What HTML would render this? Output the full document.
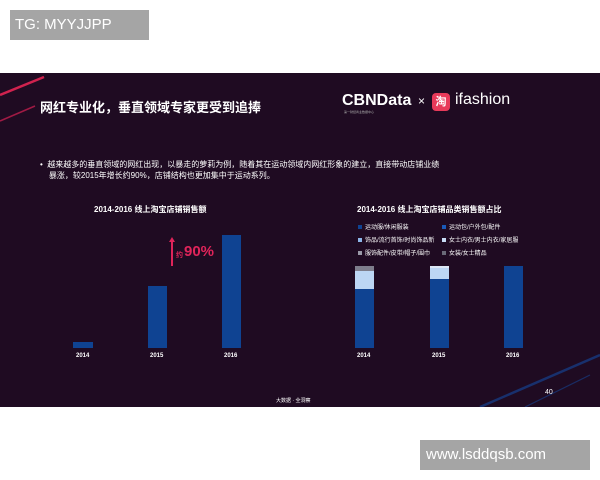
<!DOCTYPE html>
<html><head><meta charset="utf-8"><style>
body{margin:0;width:600px;height:480px;background:#fff;position:relative;overflow:hidden;font-family:"Liberation Sans","Noto Sans CJK SC",sans-serif}
.a{position:absolute;white-space:nowrap}
#dark{position:absolute;left:0;top:73px;width:600px;height:334px;background:#1f0b22;overflow:hidden}
.bar{position:absolute;background:#0f4392}
.lab{position:absolute;color:#fff;font-size:6px;font-weight:bold}
.lg{position:absolute;color:#fff;font-size:6px}
.lg i{display:inline-block;width:4px;height:4px;margin-right:3px;vertical-align:middle}
</style></head><body>
<div class="a" style="left:10px;top:10px;width:139px;height:30px;background:#a5a5a5;color:#fff;font-size:15px;line-height:30px;padding-left:5px;box-sizing:border-box">TG: MYYJJPP</div>
<div class="a" style="left:420px;top:440px;width:170px;height:30px;background:#a5a5a5;color:#fff;font-size:15px;line-height:30px;padding-left:6px;box-sizing:border-box">www.lsddqsb.com</div>
<div id="dark">
<svg width="600" height="334" style="position:absolute;left:0;top:0">
<line x1="0" y1="22" x2="44" y2="4" stroke="#d0224e" stroke-width="2.5"/>
<line x1="0" y1="48" x2="35" y2="33" stroke="#a01a44" stroke-width="1.5"/>
<line x1="480" y1="334" x2="600" y2="282" stroke="#173a80" stroke-width="2.5" opacity="0.8"/>
<line x1="525" y1="334" x2="590" y2="302" stroke="#173a80" stroke-width="1.2" opacity="0.7"/>
</svg>
<div class="a" style="left:40px;top:24px;color:#fff;font-size:13px;font-weight:bold">网红专业化，垂直领域专家更受到追捧</div>
<div class="a" style="left:342px;top:19px;color:#fff;font-size:16px;font-weight:bold">CBNData</div>
<div class="a" style="left:344px;top:37px;color:#aaa;font-size:3px">第一财经商业数据中心</div>
<div class="a" style="left:418px;top:21px;color:#fff;font-size:12px">×</div>
<div class="a" style="left:432px;top:20px;width:18px;height:18px;background:#e83a5a;border-radius:4px;color:#fff;font-size:11px;text-align:center;line-height:18px;font-weight:bold">淘</div>
<div class="a" style="left:455px;top:18px;color:#fff;font-size:16px">ifashion</div>
<div class="a" style="left:40px;top:86px;color:#fff;font-size:8px;line-height:11px">•&nbsp; 越来越多的垂直领域的网红出现，以暴走的萝莉为例，随着其在运动领域内网红形象的建立，直接带动店铺业绩<br>&nbsp;&nbsp;&nbsp; 暴涨，较2015年增长约90%，店铺结构也更加集中于运动系列。</div>
<div class="a" style="left:94px;top:131px;color:#fff;font-size:8px;font-weight:bold">2014-2016 线上淘宝店铺销售额</div>
<div class="bar" style="left:73px;top:269px;width:20px;height:6px"></div>
<div class="bar" style="left:148px;top:213px;width:19px;height:62px"></div>
<div class="bar" style="left:222px;top:162px;width:19px;height:113px"></div>
<div class="lab" style="left:76px;top:280px">2014</div>
<div class="lab" style="left:150px;top:280px">2015</div>
<div class="lab" style="left:224px;top:280px">2016</div>
<div class="a" style="left:171px;top:167px;width:1.5px;height:26px;background:#e0245a"></div>
<div class="a" style="left:168.5px;top:164px;width:0;height:0;border-left:3px solid transparent;border-right:3px solid transparent;border-bottom:5px solid #e0245a"></div>
<div class="a" style="left:176px;top:177px;color:#e0245a;font-size:7px;font-weight:bold">约</div>
<div class="a" style="left:184px;top:170px;color:#e0245a;font-size:15px;font-weight:bold">90%</div>
<div class="a" style="left:357px;top:131px;color:#fff;font-size:8px;font-weight:bold">2014-2016 线上淘宝店铺品类销售额占比</div>
<div class="lg" style="left:358px;top:149px"><i style="background:#0f4392"></i>运动服/休闲服装</div>
<div class="lg" style="left:442px;top:149px"><i style="background:#1a5ab8"></i>运动包/户外包/配件</div>
<div class="lg" style="left:358px;top:162px"><i style="background:#8db6e8"></i>饰品/流行首饰/时尚饰品新</div>
<div class="lg" style="left:442px;top:162px"><i style="background:#c8dcf4"></i>女士内衣/男士内衣/家居服</div>
<div class="lg" style="left:358px;top:175px"><i style="background:#9a9aa8"></i>服饰配件/皮带/帽子/围巾</div>
<div class="lg" style="left:442px;top:175px"><i style="background:#6a6a78"></i>女装/女士精品</div>
<div class="bar" style="left:355px;top:193px;width:19px;height:82px;background:linear-gradient(#7e7e8c 0 5px,#bcd6f4 5px 23px,#0f4392 23px)"></div>
<div class="bar" style="left:430px;top:193px;width:19px;height:82px;background:linear-gradient(#dde8f6 0 2px,#bcd6f4 2px 13px,#0f4392 13px)"></div>
<div class="bar" style="left:504px;top:193px;width:19px;height:82px"></div>
<div class="lab" style="left:357px;top:280px">2014</div>
<div class="lab" style="left:432px;top:280px">2015</div>
<div class="lab" style="left:506px;top:280px">2016</div>
<div class="a" style="left:276px;top:324px;color:#fff;font-size:5px">大数据 · 全洞察</div>
<div class="a" style="left:545px;top:316px;color:#fff;font-size:7px">40</div>
</div>
</body></html>
